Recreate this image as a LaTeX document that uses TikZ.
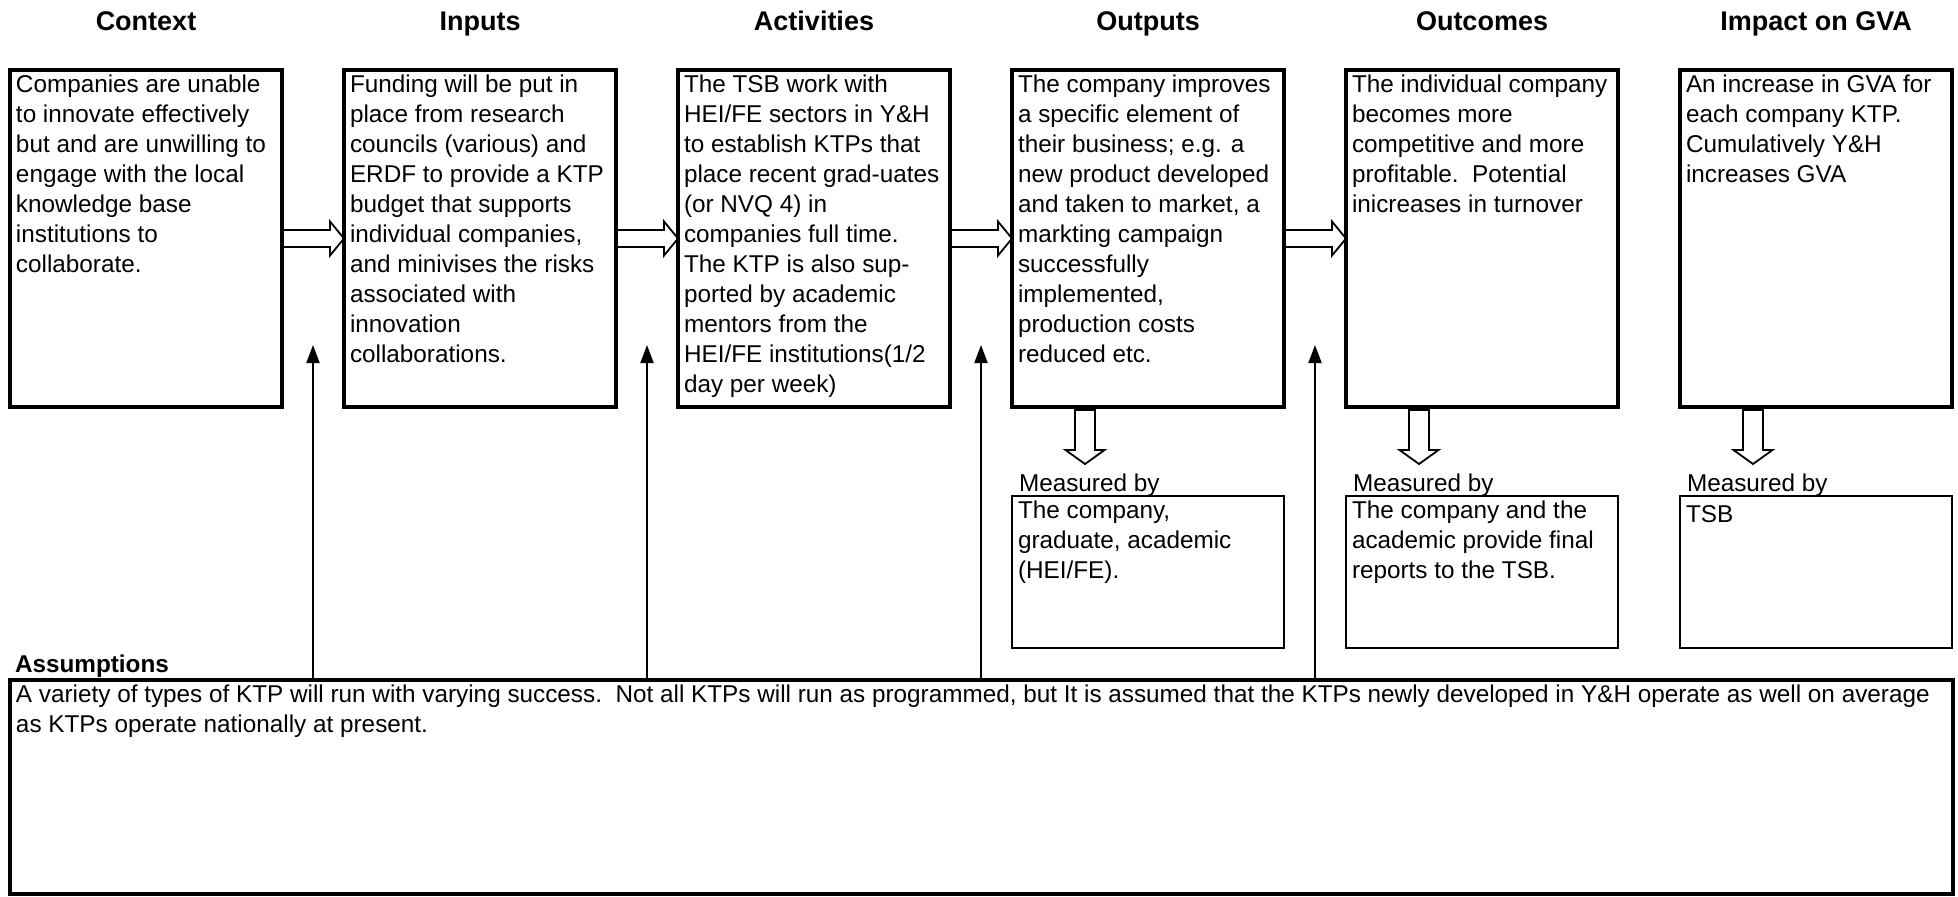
\documentclass[tikz,border=0pt]{standalone}
\usepackage{fontspec}
\setmainfont{Liberation Sans}
\usetikzlibrary{positioning,calc,arrows.meta}

\begin{document}
\begin{tikzpicture}[x=0.5pt,y=-0.5pt,
	mainbox/.style={draw,line width=2.4pt,minimum width=136pt,minimum height=168.5pt,inner sep=0pt,outer sep=0pt},
	measbox/.style={draw,line width=1.4pt,minimum width=136pt,minimum height=76pt,inner sep=0pt,outer sep=0pt},
	boxtext/.style={anchor=north west,align=left,inner sep=0pt,outer sep=0pt,font={\fontsize{12.15}{15}\selectfont},execute at begin node=\strut},
	head/.style={anchor=base,inner sep=0pt,outer sep=0pt,font={\fontsize{13.5}{16}\selectfont\bfseries}},
	plain/.style={anchor=base west,inner sep=0pt,outer sep=0pt,font={\fontsize{12.15}{15}\selectfont}},
	fatright/.style={line width=0.9pt,to path={($(\tikztostart)+(0,-8.5)$) -- ($(\tikztotarget)+(-14,-8.5)$) -- ($(\tikztotarget)+(-14,-17)$) -- (\tikztotarget) -- ($(\tikztotarget)+(-14,17)$) -- ($(\tikztotarget)+(-14,8.5)$) -- ($(\tikztostart)+(0,8.5)$)}},
	fatdown/.style={line width=0.9pt,to path={($(\tikztostart)+(-10,0)$) -- ($(\tikztotarget)+(-10,-14)$) -- ($(\tikztotarget)+(-19.5,-14)$) -- (\tikztotarget) -- ($(\tikztotarget)+(19.5,-14)$) -- ($(\tikztotarget)+(10,-14)$) -- ($(\tikztostart)+(10,0)$) -- cycle}},
	uparrow/.style={line width=1pt,-{Triangle[length=9pt,width=6.5pt]}}]
	\useasboundingbox (0,0) rectangle (1958,896);

	% the six stages
	\node[mainbox] (ctx) at (146,238.5) {};
	\node[mainbox,right=31pt of ctx] (inp) {};
	\node[mainbox,right=31pt of inp] (act) {};
	\node[mainbox,right=31pt of act] (outp) {};
	\node[mainbox,right=31pt of outp] (outc) {};
	\node[mainbox,right=31pt of outc] (imp) {};

	\node[head] (ctxhead) at ($(ctx.north)+(0,-40)$) {Context};
	\node[head] (inphead) at ($(inp.north)+(0,-40)$) {Inputs};
	\node[head] (acthead) at ($(act.north)+(0,-40)$) {Activities};
	\node[head] (outphead) at ($(outp.north)+(0,-40)$) {Outputs};
	\node[head] (outchead) at ($(outc.north)+(0,-40)$) {Outcomes};
	\node[head] (imphead) at ($(imp.north)+(0,-40)$) {Impact on GVA};

	\node[boxtext] (ctxtext) at ($(ctx.north west)+(6,5)$) {Companies are unable\\to innovate effectively\\but and are unwilling to\\engage with the local\\knowledge base\\institutions to\\collaborate.};
	\node[boxtext] (inptext) at ($(inp.north west)+(6,5)$) {Funding will be put in\\place from research\\councils (various) and\\ERDF to provide a KTP\\budget that supports\\individual companies,\\and minivises the risks\\associated with\\innovation\\collaborations.};
	\node[boxtext] (acttext) at ($(act.north west)+(6,5)$) {The TSB work with\\HEI/FE sectors in Y\&H\\to establish KTPs that\\place recent grad-uates\\(or NVQ 4) in\\companies full time.\\The KTP is also sup-\\ported by academic\\mentors from the\\HEI/FE institutions(1/2\\day per week)};
	\node[boxtext] (outptext) at ($(outp.north west)+(6,5)$) {The company improves\\a specific element of\\their business; e.g. a\\new product developed\\and taken to market, a\\markting campaign\\successfully\\implemented,\\production costs\\reduced etc.};
	\node[boxtext] (outctext) at ($(outc.north west)+(6,5)$) {The individual company\\becomes more\\competitive and more\\profitable.\ \ Potential\\inicreases in turnover};
	\node[boxtext] (imptext) at ($(imp.north west)+(6,5)$) {An increase in GVA for\\each company KTP.\\Cumulatively Y\&H\\increases GVA};

	\draw[fatright] (ctx.east) to (inp.west);
	\draw[fatright] (inp.east) to (act.west);
	\draw[fatright] (act.east) to (outp.west);
	\draw[fatright] (outp.east) to (outc.west);

	% measured by
	\node[measbox,below=44.5pt of outp] (outpmeas) {};
	\node[measbox,below=44.5pt of outc] (outcmeas) {};
	\node[measbox,below=44.5pt of imp] (impmeas) {};

	\node[plain] (outplbl) at ($(outpmeas.north west)+(7,-5)$) {Measured by};
	\node[plain] (outclbl) at ($(outcmeas.north west)+(7,-5)$) {Measured by};
	\node[plain] (implbl) at ($(impmeas.north west)+(7,-5)$) {Measured by};

	\node[boxtext] (outpmtext) at ($(outpmeas.north west)+(6,5)$) {The company,\\graduate, academic\\(HEI/FE).};
	\node[boxtext] (outcmtext) at ($(outcmeas.north west)+(6,5)$) {The company and the\\academic provide final\\reports to the TSB.};
	\node[boxtext] (impmtext) at ($(impmeas.north west)+(6,5)$) {TSB};

	\draw[fatdown] ($(outp.south west)+(73,3)$) to ($(outpmeas.north west)+(73,-32)$);
	\draw[fatdown] ($(outc.south west)+(73,3)$) to ($(outcmeas.north west)+(73,-32)$);
	\draw[fatdown] ($(imp.south west)+(73,3)$) to ($(impmeas.north west)+(73,-32)$);

	% assumptions
	\node[draw,line width=2.2pt,minimum width=971.5pt,minimum height=107pt,inner sep=0pt,outer sep=0pt] (asm) at (981.5,787) {};
	\node[plain,font={\fontsize{12.15}{15}\selectfont\bfseries}] (asmtitle) at ($(asm.north west)+(5,-8)$) {Assumptions};
	\node[boxtext] (asmtext) at ($(asm.north west)+(6,5)$) {A variety of types of KTP will run with varying success.\ \ Not all KTPs will run as programmed, but It is assumed that the KTPs newly developed in Y\&H operate as well on average\\as KTPs operate nationally at present.};

	\coordinate (g1) at ($(ctx.east)!.5!(inp.west)$);
	\coordinate (g2) at ($(inp.east)!.5!(act.west)$);
	\coordinate (g3) at ($(act.east)!.5!(outp.west)$);
	\coordinate (g4) at ($(outp.east)!.5!(outc.west)$);
	\draw[uparrow] (g1 |- asm.north) -- ++(0,-335);
	\draw[uparrow] (g2 |- asm.north) -- ++(0,-335);
	\draw[uparrow] (g3 |- asm.north) -- ++(0,-335);
	\draw[uparrow] (g4 |- asm.north) -- ++(0,-335);
\end{tikzpicture}
\end{document}
